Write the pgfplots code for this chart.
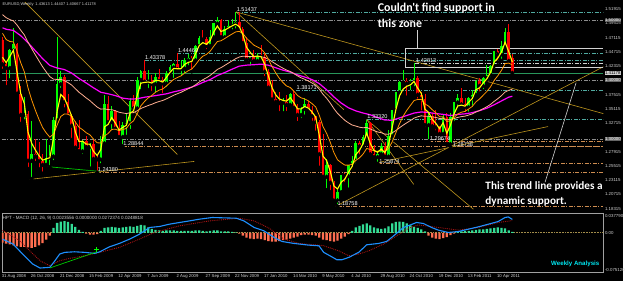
\documentclass[border=0pt]{standalone}
\usepackage{fontspec}
\setmainfont{Liberation Sans}
\newfontfamily\carl{Carlito}
\usepackage{pgfplots}
\pgfplotsset{compat=1.18}
\usepackage{pgfplotstable}
\usepgfplotslibrary{fillbetween}
\usetikzlibrary{patterns}
\definecolor{cUp}{RGB}{0,255,0}
\definecolor{cDn}{RGB}{255,0,0}
\definecolor{cYel}{RGB}{255,255,0}
\definecolor{cOra}{RGB}{255,150,0}
\definecolor{cSal}{RGB}{255,175,145}
\definecolor{cMag}{RGB}{255,0,255}
\definecolor{cGold}{RGB}{190,150,30}
\definecolor{cTeal}{RGB}{80,170,160}
\definecolor{cTan}{RGB}{205,140,80}
\definecolor{cGrayL}{RGB}{140,140,140}
\definecolor{cBid}{RGB}{40,150,90}
\definecolor{cFrame}{RGB}{160,160,160}
\definecolor{cTxt}{RGB}{210,210,210}
\definecolor{cHup}{RGB}{50,220,150}
\definecolor{cHdn}{RGB}{255,110,80}
\definecolor{cBlue}{RGB}{30,144,255}
\definecolor{cSig}{RGB}{170,20,20}
\definecolor{cCyan}{RGB}{0,230,240}
\definecolor{cDotB}{RGB}{40,160,220}
\definecolor{cDotR}{RGB}{210,40,40}
\tikzset{
  hl/.style={dash pattern=on 4bp off 1.5bp on 1bp off 1.5bp, line width=0.6bp},
  rl/.style={anchor=west, inner sep=0.3bp, font=\fontsize{4.4}{5}\selectfont, text=cTxt, xshift=1.2bp},
  ll/.style={anchor=south west, inner sep=0.5bp, font=\fontsize{5.6}{6}\selectfont, text=white},
  dl/.style={anchor=north west, inner sep=0.3bp, font=\fontsize{4.3}{5}\selectfont, text=cTxt, xshift=-1.2bp, yshift=-1.2bp},
}
\pgfplotstableread{
w o h l c
2 1.4200 1.4520 1.3990 1.4495
3 1.4495 1.4867 1.4470 1.4605
6 1.3410 1.3720 1.3300 1.3430
8 1.2640 1.3300 1.2330 1.2750
12 1.2570 1.3000 1.2550 1.2690
13 1.2690 1.2900 1.2530 1.2710
14 1.2710 1.3380 1.2610 1.3320
15 1.3320 1.4719 1.3300 1.3930
16 1.3930 1.4150 1.3830 1.4040
22 1.2800 1.2990 1.2720 1.2970
24 1.2870 1.2930 1.2510 1.2920
27 1.2660 1.3050 1.2560 1.2930
28 1.2930 1.3740 1.2890 1.3590
30 1.3290 1.3560 1.3140 1.3480
33 1.3040 1.3290 1.28844 1.3240
34 1.3240 1.3420 1.3040 1.3270
35 1.3270 1.3690 1.3140 1.3640
37 1.3520 1.4050 1.3500 1.4000
38 1.4000 1.4170 1.3810 1.4150
40 1.3970 1.4160 1.3830 1.3990
42 1.3930 1.4120 1.3750 1.4040
45 1.3940 1.4150 1.3850 1.4120
46 1.4120 1.4250 1.4080 1.4210
47 1.4210 1.4280 1.4000 1.4260
49 1.4180 1.4340 1.4050 1.4190
50 1.4190 1.4370 1.4070 1.4330
51 1.4330 1.4440 1.4210 1.4360
53 1.4330 1.4590 1.4280 1.4570
54 1.4570 1.4740 1.4560 1.4710
57 1.4570 1.4840 1.4560 1.4720
58 1.4720 1.4960 1.4680 1.4950
59 1.4950 1.5060 1.4880 1.5010
61 1.4720 1.4900 1.4660 1.4860
62 1.4860 1.5010 1.4840 1.4910
63 1.4910 1.5020 1.4820 1.4940
64 1.4940 1.51437 1.4830 1.4970
68 1.4340 1.4410 1.4220 1.4380
70 1.4320 1.4460 1.4260 1.4410
77 1.3610 1.3690 1.3440 1.3630
79 1.3580 1.3780 1.3520 1.3760
82 1.3410 1.3550 1.3330 1.3510
83 1.3510 1.3690 1.3380 1.3590
89 1.2370 1.2670 1.2140 1.2570
92 1.1970 1.2150 1.18758 1.2110
93 1.2110 1.2400 1.2070 1.2390
95 1.2380 1.2570 1.2150 1.2560
96 1.2560 1.2720 1.2540 1.2640
97 1.2640 1.2970 1.2560 1.2940
99 1.2880 1.3080 1.2820 1.3040
100 1.3040 1.3332 1.2970 1.3280
103 1.2700 1.2780 1.25874 1.2750
104 1.2750 1.2930 1.2700 1.2890
106 1.2710 1.3150 1.2680 1.3050
107 1.3050 1.3500 1.2980 1.3490
108 1.3490 1.3800 1.3440 1.3790
109 1.3790 1.3980 1.3650 1.3960
110 1.3960 1.4160 1.3920 1.3980
112 1.3940 1.4010 1.3790 1.3960
113 1.3960 1.42813 1.3860 1.4030
117 1.3240 1.3450 1.29674 1.3400
121 1.3090 1.3420 1.3050 1.3380
123 1.2920 1.3440 1.28738 1.3380
124 1.3380 1.3630 1.3280 1.3620
125 1.3620 1.3760 1.3530 1.3690
128 1.3540 1.3710 1.3430 1.3690
129 1.3690 1.3830 1.3530 1.3750
130 1.3750 1.3990 1.3740 1.3980
132 1.3900 1.4050 1.3810 1.4030
133 1.4030 1.4250 1.4000 1.4090
134 1.4090 1.4250 1.4010 1.4230
135 1.4230 1.4490 1.4160 1.4480
137 1.4430 1.4650 1.4320 1.4570
138 1.4570 1.4880 1.4520 1.4800
}\up
\pgfplotstableread{
w o h l c
0 1.4670 1.4720 1.4150 1.4260
1 1.4260 1.4300 1.3880 1.4200
4 1.4605 1.4620 1.3740 1.3770
5 1.3770 1.3900 1.3260 1.3410
7 1.3430 1.3480 1.2500 1.2640
9 1.2750 1.3000 1.2600 1.2710
10 1.2710 1.2950 1.2500 1.2630
11 1.2630 1.2760 1.2420 1.2570
17 1.4040 1.4090 1.3500 1.3630
18 1.3630 1.3760 1.3390 1.3400
19 1.3400 1.3420 1.2990 1.3230
20 1.3230 1.3300 1.2790 1.2860
21 1.2860 1.3330 1.2760 1.2800
23 1.2970 1.3050 1.2820 1.2870
25 1.2920 1.2990 1.2620 1.2670
26 1.2670 1.2720 1.2438 1.2660
29 1.3590 1.3730 1.3240 1.3290
31 1.3480 1.3500 1.3140 1.3180
32 1.3180 1.3310 1.3000 1.3040
36 1.3640 1.3740 1.3470 1.3520
39 1.4150 1.43378 1.3900 1.3970
41 1.3990 1.4080 1.3780 1.3930
43 1.4040 1.4180 1.3960 1.3980
44 1.3980 1.4040 1.3740 1.3940
48 1.4260 1.4446 1.4150 1.4180
52 1.4360 1.4400 1.4140 1.4330
55 1.4710 1.4844 1.4630 1.4680
56 1.4680 1.4730 1.4480 1.4570
60 1.5010 1.5020 1.4700 1.4720
65 1.4970 1.5140 1.4830 1.4860
66 1.4860 1.4890 1.4580 1.4620
67 1.4620 1.4720 1.4320 1.4340
69 1.4380 1.4510 1.4260 1.4320
71 1.4410 1.4580 1.4330 1.4380
72 1.4380 1.4450 1.4030 1.4140
73 1.4140 1.4180 1.3850 1.3870
74 1.3870 1.4000 1.3630 1.3670
75 1.3670 1.3790 1.3580 1.3630
76 1.3630 1.3800 1.3440 1.3610
78 1.3630 1.3750 1.3440 1.3580
80 1.3760 1.38171 1.3500 1.3530
81 1.3530 1.3600 1.3270 1.3410
84 1.3590 1.3650 1.3430 1.3500
85 1.3500 1.3560 1.3280 1.3390
86 1.3390 1.3400 1.3110 1.3290
87 1.3290 1.3330 1.2520 1.2750
88 1.2750 1.3090 1.2340 1.2370
90 1.2570 1.2590 1.2110 1.2270
91 1.2270 1.2300 1.1950 1.1970
94 1.2390 1.2440 1.2250 1.2380
98 1.2940 1.2970 1.2710 1.2880
101 1.3280 1.3290 1.2720 1.2750
102 1.2750 1.2900 1.2650 1.2700
105 1.2890 1.2950 1.2660 1.2710
111 1.3980 1.4030 1.3700 1.3940
114 1.4030 1.4070 1.3650 1.3750
115 1.3750 1.3790 1.3450 1.3680
116 1.3680 1.3760 1.3180 1.3240
118 1.3400 1.3450 1.3170 1.3220
119 1.3220 1.3500 1.3120 1.3200
120 1.3200 1.3230 1.3030 1.3090
122 1.3380 1.3440 1.2900 1.2920
126 1.3690 1.3860 1.3570 1.3590
127 1.3590 1.3690 1.3430 1.3540
131 1.3980 1.4030 1.3770 1.3900
136 1.4480 1.4520 1.4300 1.4430
139 1.4800 1.4940 1.4310 1.4320
140 1.4361 1.4441 1.4067 1.4118
}\dn
\pgfplotstableread{
w e3 e10 e34
0 1.4380 1.4785 1.5099
1 1.4290 1.4680 1.5048
2 1.4393 1.4647 1.5016
3 1.4499 1.4639 1.4993
4 1.4135 1.4483 1.4923
5 1.3772 1.4290 1.4837
6 1.3601 1.4135 1.4757
7 1.3121 1.3866 1.4636
8 1.2935 1.3665 1.4528
9 1.2823 1.3493 1.4424
10 1.2726 1.3338 1.4322
11 1.2648 1.3200 1.4222
12 1.2669 1.3108 1.4135
13 1.2690 1.3036 1.4054
14 1.3005 1.3087 1.4012
15 1.3467 1.3239 1.4007
16 1.3754 1.3383 1.4009
17 1.3692 1.3427 1.3987
18 1.3546 1.3422 1.3953
19 1.3388 1.3387 1.3912
20 1.3124 1.3292 1.3852
21 1.2962 1.3203 1.3792
22 1.2966 1.3161 1.3745
23 1.2918 1.3109 1.3695
24 1.2919 1.3075 1.3651
25 1.2795 1.3002 1.3595
26 1.2727 1.2940 1.3542
27 1.2829 1.2938 1.3507
28 1.3209 1.3055 1.3512
29 1.3250 1.3097 1.3499
30 1.3365 1.3166 1.3498
31 1.3272 1.3169 1.3480
32 1.3156 1.3146 1.3455
33 1.3198 1.3163 1.3443
34 1.3234 1.3182 1.3433
35 1.3437 1.3264 1.3445
36 1.3479 1.3310 1.3449
37 1.3739 1.3434 1.3480
38 1.3945 1.3563 1.3518
39 1.3957 1.3636 1.3544
40 1.3964 1.3696 1.3568
41 1.3947 1.3738 1.3589
42 1.3993 1.3792 1.3615
43 1.3987 1.3826 1.3636
44 1.3963 1.3847 1.3653
45 1.4042 1.3896 1.3680
46 1.4126 1.3953 1.3710
47 1.4193 1.4008 1.3741
48 1.4187 1.4039 1.3766
49 1.4188 1.4066 1.3790
50 1.4259 1.4114 1.3821
51 1.4295 1.4153 1.3850
52 1.4312 1.4185 1.3877
53 1.4441 1.4254 1.3917
54 1.4576 1.4336 1.3962
55 1.4628 1.4398 1.4003
56 1.4599 1.4429 1.4035
57 1.4660 1.4481 1.4074
58 1.4805 1.4565 1.4124
59 1.4907 1.4645 1.4175
60 1.4814 1.4659 1.4206
61 1.4837 1.4695 1.4243
62 1.4873 1.4734 1.4281
63 1.4907 1.4771 1.4319
64 1.4938 1.4807 1.4356
65 1.4899 1.4817 1.4385
66 1.4760 1.4782 1.4398
67 1.4550 1.4702 1.4395
68 1.4465 1.4644 1.4394
69 1.4393 1.4586 1.4390
70 1.4401 1.4554 1.4391
71 1.4391 1.4523 1.4390
72 1.4265 1.4454 1.4376
73 1.4068 1.4349 1.4347
74 1.3869 1.4227 1.4308
75 1.3750 1.4120 1.4269
76 1.3680 1.4028 1.4231
77 1.3655 1.3956 1.4197
78 1.3642 1.3897 1.4165
79 1.3701 1.3872 1.4142
80 1.3616 1.3810 1.4107
81 1.3513 1.3738 1.4067
82 1.3512 1.3697 1.4035
83 1.3551 1.3678 1.4010
84 1.3525 1.3646 1.3981
85 1.3458 1.3600 1.3947
86 1.3374 1.3544 1.3909
87 1.3062 1.3401 1.3843
88 1.2716 1.3215 1.3759
89 1.2643 1.3099 1.3691
90 1.2457 1.2950 1.3610
91 1.2213 1.2774 1.3516
92 1.2162 1.2654 1.3436
93 1.2276 1.2606 1.3376
94 1.2328 1.2565 1.3319
95 1.2444 1.2564 1.3276
96 1.2542 1.2578 1.3240
97 1.2741 1.2643 1.3223
98 1.2811 1.2686 1.3203
99 1.2925 1.2750 1.3194
100 1.3103 1.2845 1.3199
101 1.2926 1.2828 1.3173
102 1.2813 1.2805 1.3146
103 1.2782 1.2795 1.3123
104 1.2836 1.2812 1.3110
105 1.2773 1.2794 1.3087
106 1.2911 1.2840 1.3085
107 1.3201 1.2957 1.3108
108 1.3495 1.3107 1.3147
109 1.3728 1.3261 1.3193
110 1.3844 1.3387 1.3237
111 1.3892 1.3487 1.3277
112 1.3916 1.3569 1.3315
113 1.3973 1.3652 1.3356
114 1.3862 1.3670 1.3378
115 1.3771 1.3672 1.3395
116 1.3505 1.3594 1.3386
117 1.3453 1.3559 1.3387
118 1.3336 1.3498 1.3377
119 1.3268 1.3444 1.3367
120 1.3179 1.3380 1.3351
121 1.3280 1.3380 1.3353
122 1.3100 1.3297 1.3328
123 1.3240 1.3312 1.3331
124 1.3430 1.3367 1.3348
125 1.3560 1.3425 1.3368
126 1.3575 1.3455 1.3381
127 1.3557 1.3470 1.3390
128 1.3624 1.3510 1.3407
129 1.3687 1.3553 1.3427
130 1.3834 1.3630 1.3459
131 1.3867 1.3679 1.3484
132 1.3949 1.3742 1.3515
133 1.4019 1.3805 1.3548
134 1.4125 1.3882 1.3587
135 1.4303 1.3990 1.3638
136 1.4366 1.4069 1.3683
137 1.4468 1.4159 1.3734
138 1.4634 1.4274 1.3795
139 1.4477 1.4282 1.3825
140 1.4298 1.4252 1.3842
}\ma
\pgfplotstableread{
w e55
0 1.4877
1 1.4853
3 1.4832
5 1.4745
7 1.4625
9 1.4492
11 1.4359
13 1.4243
15 1.4200
17 1.4174
19 1.4114
21 1.4024
23 1.3947
25 1.3866
27 1.3791
29 1.3766
31 1.3735
33 1.3693
35 1.3676
37 1.3682
39 1.3708
41 1.3725
43 1.3745
45 1.3765
47 1.3798
49 1.3825
51 1.3860
53 1.3901
55 1.3957
57 1.4005
59 1.4073
61 1.4123
63 1.4179
65 1.4231
67 1.4248
69 1.4255
71 1.4265
73 1.4247
75 1.4205
77 1.4164
79 1.4131
81 1.4085
83 1.4047
85 1.4005
87 1.3936
89 1.3833
91 1.3713
93 1.3610
95 1.3530
97 1.3478
99 1.3442
101 1.3412
103 1.3364
105 1.3324
107 1.3320
109 1.3359
111 1.3400
113 1.3441
115 1.3460
117 1.3450
119 1.3433
121 1.3419
123 1.3400
125 1.3418
127 1.3428
129 1.3448
131 1.3482
133 1.3523
135 1.3581
137 1.3645
139 1.3709
140 1.3724
}\maslow
\begin{document}
\begin{tikzpicture}
\fill[black] (0,0) rectangle (625bp,282bp);
% ---------------- main price panel
\begin{axis}[at={(2bp,69.5bp)}, anchor=south west, scale only axis,
  width=603.5bp, height=210.5bp,
  xmin=-0.137, xmax=164.98, ymin=1.17796, ymax=1.53115,
  axis line style={draw=cFrame, line width=0.6bp},
  xtick=\empty, ytick=\empty, clip mode=individual]
\addplot[draw=none, name path=e3, forget plot] table[x=w, y=e3] {\ma};
\addplot[draw=none, name path=e10, forget plot] table[x=w, y=e10] {\ma};
\addplot[draw=none, name path=e34, forget plot] table[x=w, y=e34] {\ma};
\addplot[draw=none, name path=e55, forget plot] table[x=w, y=e55] {\maslow};
\addplot[fill=cDotB!22!black, draw=none] fill between[of=e3 and e10];
\addplot[pattern=dots, pattern color=cDotB, draw=none] fill between[of=e3 and e10];
\addplot[fill=cDotR!25!black, draw=none] fill between[of=e34 and e55];
\addplot[pattern=dots, pattern color=cDotR, draw=none] fill between[of=e34 and e55];
% horizontal levels
\addplot[cGrayL, hl] coordinates {(-0.137,1.5) (164.98,1.5)};
\addplot[cGrayL, hl] coordinates {(-0.137,1.4) (164.98,1.4)};
\addplot[cGrayL, hl] coordinates {(-0.137,1.3) (164.98,1.3)};
\addplot[cBid, line width=0.6bp] coordinates {(-0.137,1.41178) (164.98,1.41178)};
\addplot[cTeal, hl] coordinates {(64.16,1.51437) (164.98,1.51437)};
\addplot[cTeal, hl] coordinates {(48.0,1.4446) (164.98,1.4446)};
\addplot[cTeal, hl] coordinates {(39.0,1.43378) (164.98,1.43378)};
\addplot[cTxt, hl] coordinates {(113.4,1.42813) (164.98,1.42813)};
\addplot[cTeal, hl] coordinates {(80.6,1.38171) (164.98,1.38171)};
\addplot[cTeal, hl] coordinates {(100,1.3332) (164.98,1.3332)};
\addplot[cTan, hl] coordinates {(33,1.28844) (164.98,1.28844)};
\addplot[cTan, hl] coordinates {(26,1.2438) (164.98,1.2438)};
\addplot[cTan, hl] coordinates {(103,1.25874) (164.98,1.25874)};
\addplot[cTan, hl] coordinates {(117.2,1.29674) (164.98,1.29674)};
\addplot[cTan, hl] coordinates {(123.5,1.28738) (164.98,1.28738)};
\addplot[cTan, hl] coordinates {(92,1.18758) (164.98,1.18758)};
% trend lines
\addplot[cGold, line width=0.6bp] coordinates {(6.16,1.5311) (48.0,1.2744)};
\addplot[cGold, line width=0.6bp] coordinates {(7.52,1.2325) (52.67,1.2627)};
\addplot[cGold, line width=0.6bp] coordinates {(64.16,1.51437) (164.98,1.3432)};
\addplot[cGold, line width=0.6bp] coordinates {(64.16,1.51437) (93.7,1.3500)};
\addplot[cGold, line width=0.6bp] coordinates {(91.52,1.18719) (164.98,1.4221)};
\addplot[cGold, line width=0.6bp] coordinates {(103.3,1.2610) (149.8,1.3214)};
\addplot[cGold, line width=0.6bp] coordinates {(100,1.3332) (112.9,1.2241)};
\addplot[cGold, line width=0.6bp] coordinates {(100,1.3332) (129.3,1.1822)};
\addplot[cUp!80!black, line width=0.7bp] coordinates {(11.63,1.2543) (26.68,1.2459)};
% box and callouts
\addplot[cTxt, line width=0.7bp] coordinates {(164.98,1.4204) (110.7,1.4204) (110.7,1.4523) (164.98,1.4523)};
\addplot[cTxt, line width=0.6bp] coordinates {(113.95,1.4842) (113.95,1.4523)};
\addplot[cTxt, line width=0.6bp] coordinates {(148.97,1.22746) (157.5,1.39524)};
% candles: wicks and bodies
\addplot[only marks, mark=none, error bars/.cd, y dir=plus, y explicit, error mark=none,
  error bar style={line width=0.8bp, draw=cUp, solid}]
  table[x=w, y=l, y error expr={\thisrow{h}-\thisrow{l}}] {\up};
\addplot[only marks, mark=none, error bars/.cd, y dir=plus, y explicit, error mark=none,
  error bar style={line width=2.6bp, draw=cUp, solid}]
  table[x=w, y=o, y error expr={\thisrow{c}-\thisrow{o}}] {\up};
\addplot[only marks, mark=none, error bars/.cd, y dir=plus, y explicit, error mark=none,
  error bar style={line width=0.8bp, draw=cDn, solid}]
  table[x=w, y=l, y error expr={\thisrow{h}-\thisrow{l}}] {\dn};
\addplot[only marks, mark=none, error bars/.cd, y dir=plus, y explicit, error mark=none,
  error bar style={line width=2.6bp, draw=cDn, solid}]
  table[x=w, y=c, y error expr={\thisrow{o}-\thisrow{c}}] {\dn};
% moving averages
\addplot[cMag, line width=1.2bp] table[x=w, y=e55] {\maslow};
\addplot[cSal, line width=0.8bp] table[x=w, y=e34] {\ma};
\addplot[cOra, line width=0.8bp] table[x=w, y=e10] {\ma};
\addplot[cYel, line width=1.1bp] table[x=w, y=e3] {\ma};
% level labels
\node[ll] at (axis cs:64.16,1.51437) {1.51437};
\node[ll] at (axis cs:48.0,1.4446) {1.44460};
\node[ll] at (axis cs:39.0,1.43378) {1.43378};
\node[ll] at (axis cs:80.6,1.38171) {1.38171};
\node[ll] at (axis cs:113.4,1.42813) {1.42813};
\node[ll] at (axis cs:100,1.3332) {1.33320};
\node[ll] at (axis cs:103.3,1.25874) {1.25874};
\node[ll] at (axis cs:117.2,1.29674) {1.29674};
\node[ll] at (axis cs:123.5,1.28738) {1.28738};
\node[ll] at (axis cs:91.8,1.18758) {1.18758};
\node[ll] at (axis cs:33,1.28844) {1.28844};
\node[ll] at (axis cs:26,1.2438) {1.24380};
% price scale
\node[rl] at (axis cs:164.98,1.51915) {1.51915};
\node[rl] at (axis cs:164.98,1.49515) {1.49515};
\node[rl] at (axis cs:164.98,1.47115) {1.47115};
\node[rl] at (axis cs:164.98,1.44715) {1.44715};
\node[rl] at (axis cs:164.98,1.42315) {1.42315};
\node[rl] at (axis cs:164.98,1.37515) {1.37515};
\node[rl] at (axis cs:164.98,1.35115) {1.35115};
\node[rl] at (axis cs:164.98,1.32715) {1.32715};
\node[rl] at (axis cs:164.98,1.27915) {1.27915};
\node[rl] at (axis cs:164.98,1.25515) {1.25515};
\node[rl] at (axis cs:164.98,1.23115) {1.23115};
\node[rl] at (axis cs:164.98,1.20715) {1.20715};
\node[rl] at (axis cs:164.98,1.18315) {1.18315};
\node[rl, fill=gray!80!black, text=white] at (axis cs:164.98,1.5) {1.50000};
\node[rl, fill=gray!80!black, text=white] at (axis cs:164.98,1.4) {1.40000};
\node[rl, fill=gray!80!black, text=white] at (axis cs:164.98,1.3) {1.30000};
\node[rl, fill=cTxt, text=black] at (axis cs:164.98,1.41178) {1.41178};
\end{axis}
% ---------------- MACD panel
\begin{axis}[at={(2bp,8.5bp)}, anchor=south west, scale only axis,
  width=603.5bp, height=59bp,
  xmin=-0.137, xmax=164.98, ymin=-0.0813, ymax=0.0389,
  axis line style={draw=cFrame, line width=0.6bp},
  xtick=\empty, ytick=\empty, clip mode=individual]
\addplot[cGold!55!gray, densely dotted, line width=0.6bp] coordinates {(-0.137,0) (164.98,0)};
\addplot[ybar, bar width=2.3bp, fill=cHup, draw=none] coordinates {
(14,0.010)(15,0.020)(16,0.023)(17,0.024)(18,0.022)(19,0.018)(20,0.012)(21,0.006)(22,0.002)
(27,0.004)(28,0.010)(29,0.011)(30,0.012)(31,0.011)(32,0.010)(33,0.011)(34,0.012)(35,0.013)
(36,0.012)(37,0.014)(38,0.016)(39,0.015)(40,0.011)(41,0.008)(42,0.006)(43,0.005)(44,0.004)
(45,0.005)(46,0.005)(47,0.005)(48,0.004)(49,0.004)(50,0.004)(51,0.004)(52,0.004)(53,0.005)
(54,0.005)(55,0.004)(56,0.003)(57,0.004)(58,0.005)(59,0.005)(60,0.003)(61,0.003)(62,0.003)
(63,0.002)(64,0.001)
(96,0.004)(97,0.011)(98,0.014)(99,0.017)(100,0.019)(101,0.015)(102,0.011)(103,0.009)
(104,0.008)(105,0.009)(106,0.013)(107,0.019)(108,0.022)(109,0.023)(110,0.022)(111,0.019)
(112,0.015)(113,0.012)(114,0.010)(115,0.007)(116,0.003)
(125,0.003)(126,0.003)(127,0.004)(128,0.004)(129,0.005)(130,0.006)(131,0.007)(132,0.007)
(133,0.008)(134,0.009)(135,0.010)(136,0.011)(137,0.010)(138,0.009)(139,0.005)(140,0.002)};
\addplot[ybar, bar width=2.3bp, fill=cHdn, draw=none] coordinates {
(0,-0.020)(1,-0.022)(2,-0.024)(3,-0.026)(4,-0.028)(5,-0.029)(6,-0.029)(7,-0.030)(8,-0.031)
(9,-0.029)(10,-0.026)(11,-0.021)(12,-0.014)(13,-0.006)
(23,-0.002)(24,-0.004)(25,-0.004)(26,-0.003)
(65,-0.002)(66,-0.006)(67,-0.010)(68,-0.012)(69,-0.013)(70,-0.012)(71,-0.013)(72,-0.015)
(73,-0.017)(74,-0.018)(75,-0.018)(76,-0.017)(77,-0.015)(78,-0.014)(79,-0.012)(80,-0.010)
(81,-0.008)(82,-0.005)(83,-0.004)(84,-0.004)(85,-0.005)(86,-0.006)(87,-0.010)(88,-0.014)
(89,-0.015)(90,-0.017)(91,-0.018)(92,-0.016)(93,-0.012)(94,-0.008)(95,-0.003)
(117,-0.006)(118,-0.010)(119,-0.012)(120,-0.013)(121,-0.011)(122,-0.009)(123,-0.005)(124,-0.002)};
\addplot[cSig, densely dotted, line width=0.9bp] coordinates {
(0,0.005)(4.8,-0.0165)(7.5,-0.0369)(10.3,-0.0572)(13,-0.0674)(15.7,-0.0572)(18.5,-0.0523)
(22.6,-0.047)(26.7,-0.0401)(32.1,-0.0299)(37.6,-0.013)(41.7,0.0006)(48.6,0.0141)(56.8,0.0242)
(65,0.0297)(69.1,0.0242)(73.2,0.0094)(77.3,-0.013)(81.4,-0.0218)(85.5,-0.0246)(88,-0.026)
(92.3,-0.0369)(95.1,-0.047)(97.8,-0.0436)(100.6,-0.0369)(104.6,-0.0232)(108.2,-0.0063)
(111.5,0.0094)(114.2,0.0161)(119.7,0.0108)(125.2,0.0053)(130.6,0.0108)(136.1,0.021)(140,0.0249)};
\addplot[cBlue, line width=1.1bp] coordinates {
(0,-0.013)(2.9,-0.023)(5.6,-0.044)(8.3,-0.064)(10.3,-0.0721)(13,-0.0707)(14.4,-0.0572)
(15.7,-0.0436)(17.1,-0.0401)(19.8,-0.0389)(22.6,-0.0401)(25.3,-0.0422)(26.7,-0.0389)
(29.4,-0.0287)(32.1,-0.0218)(34.9,-0.013)(37.6,-0.0029)(40.4,0.0108)(43.1,0.0128)
(45.8,0.0175)(48.6,0.021)(51.3,0.0242)(54,0.0277)(57.6,0.0312)(64.2,0.0297)(66.3,0.0242)
(69.1,0.0108)(71.8,0.0039)(74.6,-0.0096)(76.7,-0.0177)(80,-0.0218)(84.1,-0.0253)
(86.9,-0.0267)(88.2,-0.0401)(90.4,-0.0491)(91.8,-0.0552)(93.2,-0.0552)(95.1,-0.0503)
(97.8,-0.0401)(100,-0.0246)(103.3,-0.0218)(105.5,-0.0177)(107.4,-0.0063)(108.8,0.0026)
(110.1,0.0108)(112,0.0161)(113.7,0.021)(115.6,0.0189)(117.8,0.0108)(119.7,0.0053)
(122.4,0.0006)(125.2,0.0026)(127.9,0.0073)(130.6,0.012)(133.4,0.0175)(136.1,0.023)
(138,0.0312)(138.9,0.0324)(140,0.0272)};
\addplot[cUp!80!black, line width=0.7bp] coordinates {(13,-0.072) (25.9,-0.039)};
\addplot[cUp, only marks, mark=+, mark size=2.4bp, line width=1bp] coordinates {(25.9,-0.035)};
\node[rl] at (axis cs:164.98,0.0348) {0.037790};
\node[rl] at (axis cs:164.98,0) {0.00};
\node[rl] at (axis cs:164.98,-0.0752) {-0.075120};
\node[dl] at (axis cs:0,-0.0813) {31 Aug 2008};
\node[dl] at (axis cs:8,-0.0813) {26 Oct 2008};
\node[dl] at (axis cs:16,-0.0813) {21 Dec 2008};
\node[dl] at (axis cs:24,-0.0813) {15 Feb 2009};
\node[dl] at (axis cs:32,-0.0813) {12 Apr 2009};
\node[dl] at (axis cs:40,-0.0813) {7 Jun 2009};
\node[dl] at (axis cs:48,-0.0813) {2 Aug 2009};
\node[dl] at (axis cs:56,-0.0813) {27 Sep 2009};
\node[dl] at (axis cs:64,-0.0813) {22 Nov 2009};
\node[dl] at (axis cs:72,-0.0813) {17 Jan 2010};
\node[dl] at (axis cs:80,-0.0813) {14 Mar 2010};
\node[dl] at (axis cs:88,-0.0813) {9 May 2010};
\node[dl] at (axis cs:96,-0.0813) {4 Jul 2010};
\node[dl] at (axis cs:104,-0.0813) {29 Aug 2010};
\node[dl] at (axis cs:112,-0.0813) {24 Oct 2010};
\node[dl] at (axis cs:120,-0.0813) {19 Dec 2010};
\node[dl] at (axis cs:128,-0.0813) {13 Feb 2011};
\node[dl] at (axis cs:136,-0.0813) {10 Apr 2011};
\end{axis}
% ---------------- texts
\node[anchor=north west, inner sep=0pt, text=cTxt, font=\fontsize{4}{5}\selectfont] at (2.5bp,280bp) {EURUSD,Weekly\enspace 1.43613 1.44407 1.40667 1.41178};
\node[anchor=north west, inner sep=0pt, text=cTxt, font=\fontsize{4.6}{5}\selectfont] at (2.5bp,65.5bp) {HPT - MACD (12, 26, 9) 0.0023556 0.0000000 0.0272374 0.0248818};
\node[anchor=north west, inner sep=0pt, text=white, font=\carl\bfseries\fontsize{12}{14}\selectfont] at (379bp,279.5bp) {Couldn't find support in};
\node[anchor=north west, inner sep=0pt, text=white, font=\carl\bfseries\fontsize{12}{14}\selectfont] at (379bp,263bp) {this zone};
\node[anchor=north west, inner sep=0pt, text=white, font=\carl\bfseries\fontsize{11.3}{13}\selectfont] at (487bp,100bp) {This trend line provides a};
\node[anchor=north west, inner sep=0pt, text=white, font=\carl\bfseries\fontsize{11.3}{13}\selectfont] at (487bp,85bp) {dynamic support.};
\node[anchor=north west, inner sep=0pt, text=cCyan, font=\bfseries\fontsize{6.2}{7}\selectfont] at (553bp,20.5bp) {Weekly Analysis};
\end{tikzpicture}
\end{document}
